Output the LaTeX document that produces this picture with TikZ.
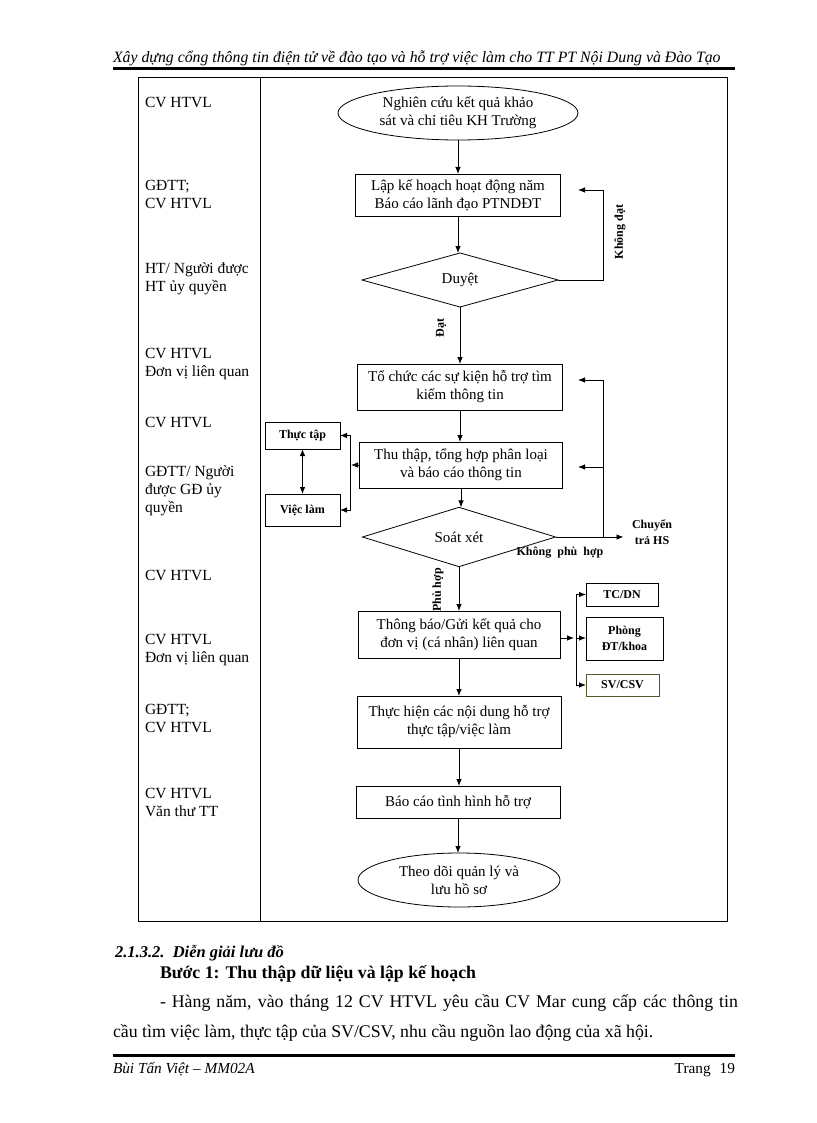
\documentclass[tikz,border=0pt]{standalone}
\usepackage{fontspec}
\setmainfont{Liberation Serif}
\usetikzlibrary{shapes.geometric,arrows.meta}
\newcommand\fsflow{\fontsize{15}{18}\selectfont}
\newcommand\fslane{\fontsize{15.5}{18}\selectfont}
\newcommand\fslbl{\fontsize{12}{16}\selectfont}
\newcommand\fshdr{\fontsize{15.8}{18}\selectfont}
\newcommand\fssec{\fontsize{16.5}{20}\selectfont}
\newcommand\fsbody{\fontsize{17.8}{20}\selectfont}
\newcommand\fsfoot{\fontsize{15.3}{18}\selectfont}
\begin{document}
\begin{tikzpicture}[x=1pt,y=-1pt,
  every node/.style={inner sep=0pt,outer sep=0pt},
  flow/.style={font=\fsflow,align=center},
  procbox/.style={flow,draw,line width=0.8pt},
  termell/.style={flow,draw,ellipse,line width=0.8pt},
  decide/.style={flow,draw,diamond,line width=0.8pt},
  sidebox/.style={draw,line width=0.8pt,font=\fslbl\bfseries,align=center},
  lanelbl/.style={font=\fslane,align=left,anchor=west},
  edgelbl/.style={font=\fslbl\bfseries,align=center},
  conn/.style={line width=0.8pt},
  arr/.style={conn,-{Latex[length=7pt,width=5.5pt]}},
  dblarr/.style={conn,{Latex[length=7pt,width=5.5pt]}-{Latex[length=7pt,width=5.5pt]}}
]
\fill[white] (0,0) rectangle (816,1123);
\useasboundingbox (0,0) rectangle (816,1123);

% header
\node[anchor=base west,font=\fshdr\itshape] (hdr) at (113,63) {Xây dựng cổng thông tin điện tử về đào tạo và hỗ trợ việc làm cho TT PT Nội Dung và Đào Tạo};
\draw[line width=3pt] (113,69) -- (735,69);

% table frame
\draw[line width=0.8pt] (138,77) rectangle (727,921);
\draw[line width=0.8pt] (260,77) -- (260,921);

% lane labels
\node[lanelbl] (l1) at (145,102) {CV HTVL};
\node[lanelbl] (l2) at (145,194) {GĐTT;\\CV HTVL};
\node[lanelbl] (l3) at (145,279) {HT/ Người được\\HT ủy quyền};
\node[lanelbl] (l4) at (145,364) {CV HTVL\\Đơn vị liên quan};
\node[lanelbl] (l5) at (145,422) {CV HTVL};
\node[lanelbl] (l6) at (145,491) {GĐTT/ Người\\được GĐ ủy\\quyền};
\node[lanelbl] (l7) at (145,575) {CV HTVL};
\node[lanelbl] (l8) at (145,650) {CV HTVL\\Đơn vị liên quan};
\node[lanelbl] (l9) at (145,718) {GĐTT;\\CV HTVL};
\node[lanelbl] (l10) at (145,802) {CV HTVL\\Văn thư TT};

% flow nodes
\node[termell,minimum width=240pt,minimum height=54pt] (e1) at (458,113) {Nghiên cứu kết quả khảo\\sát và chỉ tiêu KH Trường};
\node[procbox,minimum width=205pt,minimum height=42pt] (b2) at (458,195) {Lập kế hoạch hoạt động năm\\Báo cáo lãnh đạo PTNDĐT};
\node[decide,minimum width=196pt,minimum height=54pt] (d1) at (460,280) {Duyệt};
\node[procbox,minimum width=205pt,minimum height=46pt] (b3) at (460,387) {Tổ chức các sự kiện hỗ trợ tìm\\kiếm thông tin};
\node[procbox,minimum width=203pt,minimum height=46pt] (b4) at (461,465) {Thu thập, tổng hợp phân loại\\và báo cáo thông tin};
\node[decide,minimum width=193pt,minimum height=54pt] (d2) at (459,537) {Soát xét};
\node[procbox,minimum width=202pt,minimum height=47pt] (b5) at (459,634.5) {Thông báo/Gửi kết quả cho\\đơn vị (cá nhân) liên quan};
\node[procbox,minimum width=204pt,minimum height=52pt] (b6) at (459,722) {Thực hiện các nội dung hỗ trợ\\thực tập/việc làm};
\node[procbox,minimum width=204pt,minimum height=32pt] (b7) at (458,802) {Báo cáo tình hình hỗ trợ};
\node[termell,minimum width=202pt,minimum height=54pt] (e2) at (459,880) {Theo dõi quản lý và\\lưu hồ sơ};

% side boxes
\node[sidebox,minimum width=75pt,minimum height=27pt] (tt) at (302.5,435.5) {Thực tập};
\node[sidebox,minimum width=75pt,minimum height=32pt] (vl) at (302.5,510) {Việc làm};
\node[sidebox,minimum width=72pt,minimum height=23pt] (tc) at (622,594.5) {TC/DN};
\node[sidebox,minimum width=77pt,minimum height=43pt] (ph) at (624.5,638.5) {Phòng\\ĐT/khoa};
\node[sidebox,minimum width=73pt,minimum height=22pt,draw={rgb,255:red,90;green,85;blue,40}] (sv) at (622.5,685) {SV/CSV};

% main arrows
\draw[arr] (e1.south) -- (e1.south |- b2.north);
\draw[arr] (b2.south) -- (b2.south |- d1.north);
\draw[arr] (d1.south) -- (d1.south |- b3.north);
\draw[arr] (b3.south) -- (b3.south |- b4.north);
\draw[arr] (b4.south) -- (b4.south |- d2.north);
\draw[arr] (d2.south) -- (d2.south |- b5.north);
\draw[arr] (b5.south) -- (b5.south |- b6.north);
\draw[arr] (b6.south) -- (b6.south |- b7.north);
\draw[arr] (b7.south) -- (b7.south |- e2.north);

% loop back from Duyet
\coordinate (k1) at (603,190);
\coordinate (k1t) at (578,190);
\draw[arr] (d1.east) -| (k1) -- (k1t);
\node[edgelbl,rotate=90] (lkd) at (620,232) {Không đạt};
\node[edgelbl,rotate=90] (ldat) at (441,328) {Đạt};

% left bracket
\coordinate (brl) at (350,465);
\coordinate (brlt) at (351,465);
\draw[arr] (b4.west) -- (brlt);
\draw[arr] (brl) |- (tt.east);
\draw[arr] (brl) |- (vl.east);
\draw[dblarr] (tt.south) -- (vl.north);

% feedback from Soat xet
\coordinate (fb3) at (603,380);
\coordinate (fb3t) at (578,380);
\coordinate (fb4) at (603,467);
\coordinate (fb4t) at (578,467);
\draw[arr] (d2.east) -- ++(68,0) coordinate (chtip);
\draw[conn] (d2.east -| fb3) -- (fb3);
\draw[arr] (fb3) -- (fb3t);
\draw[arr] (fb4) -- (fb4t);
\node[edgelbl] (lch) at (652,532) {Chuyển\\trả HS};
\node[edgelbl] (lkph) at (560,553) {Không\ \ phù\ \ hợp};
\node[edgelbl,rotate=90] (lph) at (438,590) {Phù hợp};

% right bracket
\coordinate (brr) at (576,638);
\coordinate (brrt) at (574,638);
\draw[arr] (b5.east |- brr) -- (brrt);
\draw[arr] (brr) |- (tc.west);
\draw[arr] (brr) -- (ph.west |- brr);
\draw[arr] (brr) |- (sv.west);

% text below
\node[anchor=base west,font=\fssec\bfseries\itshape] (sec) at (115,957) {2.1.3.2.\ \ Diễn giải lưu đồ};
\node[anchor=base west,font=\fsbody\bfseries] (step1) at (160,978) {Bước 1: Thu thập dữ liệu và lập kế hoạch};
\node[anchor=base west,font=\fsbody] (p1) at (160,1007) {\makebox[578pt][s]{- Hàng năm, vào tháng 12 CV HTVL yêu cầu CV Mar cung cấp các thông tin}};
\node[anchor=base west,font=\fsbody] (p2) at (113,1037) {cầu tìm việc làm, thực tập của SV/CSV, nhu cầu nguồn lao động của xã hội.};

% footer
\draw[line width=3pt] (113,1055) -- (735,1055);
\node[anchor=base west,font=\fsfoot\itshape] (ft1) at (113,1073) {Bùi Tấn Việt – MM02A};
\node[anchor=base east,font=\fsfoot] (ft2) at (735,1073) {Trang\hspace{9pt}19};
\end{tikzpicture}
\end{document}
